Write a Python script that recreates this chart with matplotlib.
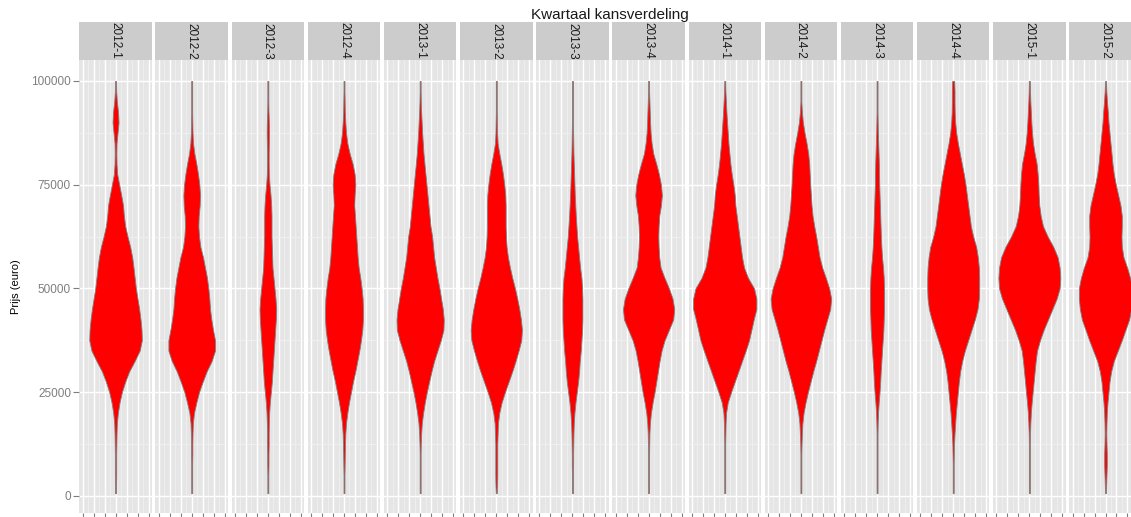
import numpy as np
import matplotlib
matplotlib.use('Agg')
import matplotlib.pyplot as plt

plt.rcParams['font.family'] = ['Liberation Sans', 'DejaVu Sans']

# ---------------- data ----------------
QUARTERS = ['2012-1', '2012-2', '2012-3', '2012-4', '2013-1', '2013-2', '2013-3',
            '2013-4', '2014-1', '2014-2', '2014-3', '2014-4', '2015-1', '2015-2']

# price levels (euro) at which the violin width was read, top to bottom
PRICE_LEVELS = list(range(100000, 0, -2500)) + [600]

# violin full width (relative density units) at each price level, top to bottom
W_2012_1 = [3, 4, 8, 15, 18, 12, 6, 5, 6, 10, 22, 34, 45, 50, 58, 72, 88, 100, 108, 115,
            122, 132, 142, 150, 156, 158, 145, 115, 82, 58, 38, 24, 14, 8, 6, 5, 4, 4, 4, 3, 3]
W_2012_2 = [3, 3, 3, 3, 4, 5, 8, 16, 28, 38, 46, 50, 48, 42, 40, 44, 52, 68, 80, 92,
            100, 106, 110, 118, 128, 140, 140, 120, 90, 66, 44, 28, 14, 7, 5, 4, 4, 3, 3, 3, 3]
W_2012_3 = [3, 3, 3, 4, 6, 7, 6, 5, 5, 6, 10, 16, 20, 22, 22, 22, 24, 26, 28, 34,
            40, 46, 50, 48, 44, 40, 36, 32, 28, 24, 18, 12, 8, 6, 5, 5, 4, 4, 3, 3, 3]
W_2012_4 = [3, 3, 4, 5, 8, 12, 20, 34, 52, 64, 68, 64, 62, 66, 70, 74, 78, 82, 88, 98,
            106, 112, 114, 114, 110, 102, 92, 80, 68, 54, 42, 30, 20, 12, 8, 6, 5, 4, 3, 3, 3]
W_2013_1 = [3, 3, 4, 6, 9, 12, 16, 20, 26, 32, 38, 44, 50, 56, 62, 72, 78, 84, 94, 104,
            116, 126, 136, 142, 140, 124, 104, 84, 68, 54, 40, 28, 18, 10, 6, 4, 3, 3, 3, 3, 3]
W_2013_2 = [3, 3, 3, 3, 4, 5, 8, 18, 30, 40, 48, 54, 56, 56, 56, 58, 62, 70, 82, 96,
            112, 126, 138, 148, 154, 150, 134, 116, 96, 74, 52, 32, 18, 10, 8, 6, 6, 6, 6, 5, 3]
W_2013_3 = [3, 3, 3, 3, 3, 4, 5, 6, 8, 10, 12, 14, 17, 20, 24, 28, 34, 40, 46, 54,
            58, 60, 60, 60, 58, 54, 50, 44, 40, 34, 26, 18, 12, 8, 6, 5, 4, 4, 3, 3, 3]
W_2013_4 = [3, 3, 5, 7, 9, 12, 18, 28, 46, 62, 74, 80, 74, 64, 60, 58, 60, 64, 72, 96,
            122, 144, 154, 148, 122, 96, 78, 66, 56, 46, 36, 24, 14, 8, 5, 4, 3, 3, 3, 3, 3]
W_2014_1 = [3, 4, 7, 10, 14, 18, 22, 28, 34, 42, 52, 60, 64, 72, 80, 88, 96, 104, 116, 140,
            176, 190, 190, 174, 160, 146, 126, 104, 82, 60, 38, 18, 8, 5, 4, 3, 3, 3, 3, 3, 3]
W_2014_2 = [3, 3, 3, 6, 12, 22, 34, 44, 50, 53, 56, 60, 64, 70, 80, 92, 102, 112, 128, 150,
            170, 182, 176, 158, 140, 124, 108, 92, 74, 58, 42, 28, 16, 9, 6, 4, 3, 3, 3, 3, 3]
W_2014_3 = [3, 3, 3, 3, 4, 5, 7, 9, 11, 12, 13, 15, 17, 19, 21, 23, 26, 30, 36, 40,
            42, 42, 42, 40, 38, 34, 30, 26, 22, 19, 15, 10, 6, 4, 3, 3, 3, 3, 3, 3, 3]
W_2014_4 = [6, 8, 8, 9, 12, 18, 28, 40, 52, 64, 74, 82, 90, 98, 106, 120, 138, 148, 154, 156,
            156, 154, 146, 130, 110, 90, 70, 54, 42, 34, 28, 22, 16, 12, 8, 5, 4, 3, 3, 3, 3]
W_2015_1 = [3, 4, 6, 9, 12, 16, 22, 32, 44, 50, 54, 56, 60, 68, 82, 110, 144, 170, 182, 186,
            182, 164, 138, 112, 86, 64, 46, 38, 32, 26, 20, 14, 9, 6, 4, 3, 3, 3, 3, 3, 3]
W_2015_2 = [3, 5, 9, 14, 18, 24, 30, 36, 42, 50, 62, 76, 90, 98, 98, 96, 98, 108, 130, 148,
            160, 160, 154, 142, 120, 98, 74, 50, 34, 24, 18, 12, 8, 6, 5, 6, 8, 8, 6, 4, 3]

WIDTHS = [W_2012_1, W_2012_2, W_2012_3, W_2012_4, W_2013_1, W_2013_2, W_2013_3,
          W_2013_4, W_2014_1, W_2014_2, W_2014_3, W_2014_4, W_2015_1, W_2015_2]

Y_TICKS = [0, 25000, 50000, 75000, 100000]
Y_TICK_LABELS = ['0', '25000', '50000', '75000', '100000']
Y_MINOR = [12500, 37500, 62500, 87500]
X_TICKS = [1, 2, 3, 4, 5, 6, 7]
X_MINOR = [1.5, 2.5, 3.5, 4.5, 5.5, 6.5]
VIOLIN_POS = 4

TITLE = 'Kwartaal kansverdeling'
Y_LABEL = 'Prijs (euro)'

# ---------------- layout ----------------
FW, FH = 1131, 517
fig = plt.figure(figsize=(FW / 100, FH / 100), dpi=100)
fig.patch.set_facecolor('white')

PANEL_LEFT0 = 79.3
PANEL_PITCH = 76.15
PANEL_W = 72.5
PANEL_BOTTOM = 4.5
PANEL_H = 452.5
STRIP_TOP = 21.7
STRIP_BOTTOM = 60.0
WIDTH_SCALE = 1.0 / 66.0   # density units -> x-axis units (half width)

for i, (q, w) in enumerate(zip(QUARTERS, WIDTHS)):
    left = PANEL_LEFT0 + PANEL_PITCH * i
    ax = fig.add_axes([left / FW, PANEL_BOTTOM / FH, PANEL_W / FW, PANEL_H / FH])
    ax.set_facecolor('#E5E5E5')
    ax.set_xlim(0.7, 7.3)
    ax.set_ylim(-4050, 105060)
    ax.set_xticks(X_TICKS)
    ax.set_xticks(X_MINOR, minor=True)
    ax.set_yticks(Y_TICKS)
    ax.set_yticks(Y_MINOR, minor=True)
    ax.grid(which='major', color='white', linewidth=1.0)
    ax.grid(which='minor', color='#F2F2F2', linewidth=0.5)
    ax.set_axisbelow(True)
    for s in ax.spines.values():
        s.set_visible(False)
    ax.tick_params(which='major', length=4, width=0.8, color='#7F7F7F')
    ax.tick_params(which='minor', length=0)
    ax.set_xticklabels([])
    if i == 0:
        ax.set_yticklabels(Y_TICK_LABELS, fontsize=8.5, color='#7F7F7F')
        ax.tick_params(axis='y', pad=2)
    else:
        ax.tick_params(axis='y', which='both', left=False, labelleft=False)

    half = np.array(w, dtype=float) * WIDTH_SCALE
    ax.fill_betweenx(PRICE_LEVELS, VIOLIN_POS - half, VIOLIN_POS + half,
                     facecolor='#FF0000', edgecolor='#7F7F7F', linewidth=0.6, zorder=3)

    sax = fig.add_axes([left / FW, 1 - STRIP_BOTTOM / FH, PANEL_W / FW,
                        (STRIP_BOTTOM - STRIP_TOP) / FH])
    sax.set_facecolor('#CCCCCC')
    sax.set_xticks([])
    sax.set_yticks([])
    for s in sax.spines.values():
        s.set_visible(False)
    sax.text(0.5, 0.5, q, rotation=-90, rotation_mode='anchor',
             ha='center', va='center', fontsize=8.5, color='#1A1A1A',
             transform=sax.transAxes)

fig.text(610 / FW, 1 - 15 / FH, TITLE, ha='center', va='center', fontsize=11, color='#1A1A1A')
fig.text(16 / FW, 1 - 287 / FH, Y_LABEL, rotation=90, ha='center', va='center',
         fontsize=8, color='black')

fig.savefig('out.png', dpi=100)
